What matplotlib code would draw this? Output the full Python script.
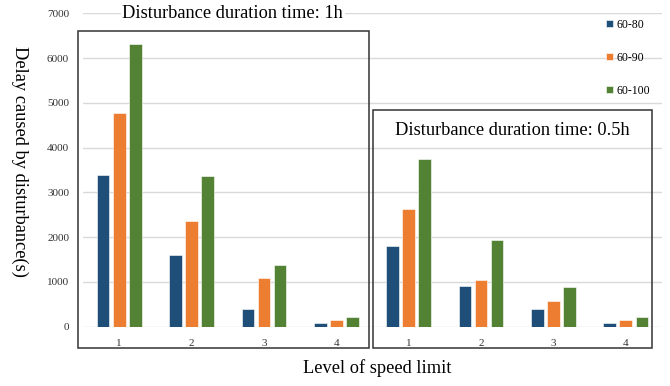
import numpy as np
import matplotlib
matplotlib.use("Agg")
from matplotlib import pyplot as plt
from matplotlib.patches import Rectangle

plt.rcParams['font.family'] = ['Liberation Serif', 'DejaVu Serif']

# level of speed limit, repeated for the two disturbance durations
levels = ['1', '2', '3', '4']
durations = ['Disturbance duration time: 1h', 'Disturbance duration time: 0.5h']
series = ['60-80', '60-90', '60-100']

# delay (s): rows = series, columns = levels (1h then 0.5h)
delay_1h = [
    [3390, 1600, 400, 80],
    [4775, 2350, 1080, 150],
    [6315, 3370, 1370, 215],
]
delay_05h = [
    [1800, 910, 400, 80],
    [2630, 1040, 575, 150],
    [3750, 1940, 885, 215],
]

colors = ['#1f4e79', '#ed7d31', '#548235']

fig = plt.figure(figsize=(6.7, 3.86), dpi=100)
ax = fig.add_axes([83 / 670, 1 - 326.7 / 386, (662 - 83) / 670, (326.7 - 13.3) / 386])

n = len(levels)
x = np.arange(2 * n)
width = 0.175
step = 0.222

for i, name in enumerate(series):
    vals = list(delay_1h[i]) + list(delay_05h[i])
    ax.bar(x + (i - 1) * step, vals, width, color=colors[i], label=name,
           edgecolor='white', linewidth=0.4, zorder=3)

ax.set_xlim(-0.5, 2 * n - 0.5)
ax.set_ylim(0, 7000)
ax.set_yticks(np.arange(0, 7001, 1000))
ax.set_xticks(x)
ax.set_xticklabels(levels * 2)
ax.tick_params(axis='both', length=0, labelsize=8, colors='#333333')
ax.tick_params(axis='y', pad=10)
ax.tick_params(axis='x', pad=9)
ax.grid(axis='y', color='#d9d9d9', linewidth=1, zorder=0)
for s in ax.spines.values():
    s.set_visible(False)

# framed panels for the two durations
ax.add_patch(Rectangle((-0.57, -476), 4.026, 7081, fill=False, edgecolor='#333333',
                       linewidth=1.1, clip_on=False, zorder=4))
ax.add_patch(Rectangle((3.51, -476), 3.846, 5316, fill=False, edgecolor='#333333',
                       linewidth=1.1, clip_on=False, zorder=4))
ax.text(1.57, 7000, durations[0], ha='center', va='center', fontsize=13.2, zorder=5,
        bbox=dict(facecolor='white', edgecolor='none', pad=1))
ax.text(5.43, 4380, durations[1], ha='center', va='center', fontsize=13.2, zorder=5)

ax.set_ylabel('Delay caused by disturbance(s)', fontsize=13.2,
              rotation=270, va='center', ha='center')
ax.yaxis.set_label_coords(-0.109, 0.526)
fig.text(377 / 670, 1 - 368 / 386, 'Level of speed limit', ha='center', va='center',
         fontsize=13.2)

ax.legend(loc='upper left', bbox_to_anchor=(601 / 670, 1 - 14 / 386),
          bbox_transform=fig.transFigure, frameon=False, fontsize=8.5,
          handlelength=0.6, handleheight=0.6, handletextpad=0.3, labelspacing=1.78,
          borderaxespad=0)

fig.savefig('out.png', dpi=100)
